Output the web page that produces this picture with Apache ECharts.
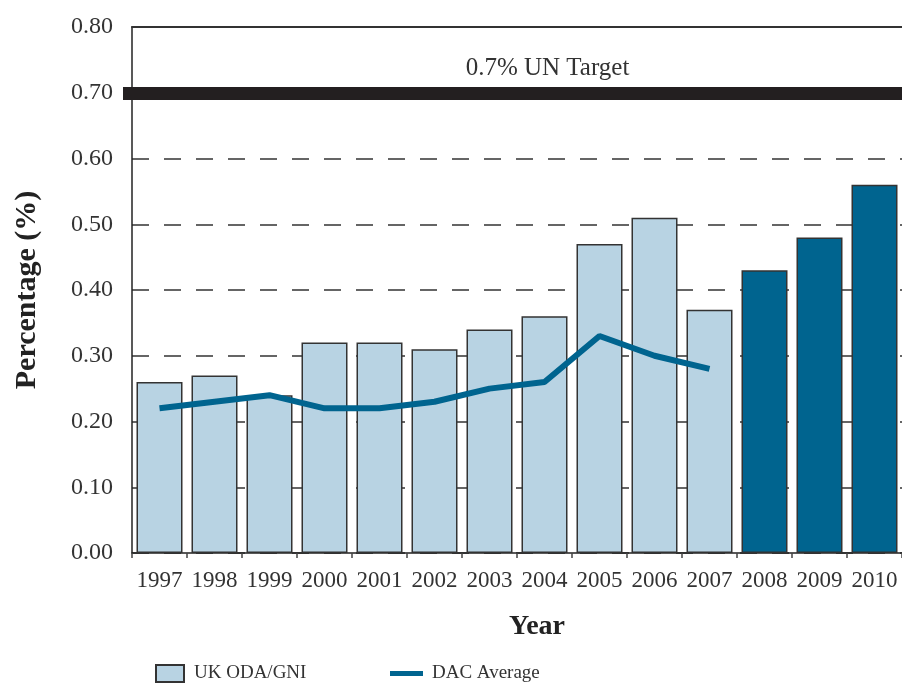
<!DOCTYPE html>
<html>
<head>
<meta charset="utf-8">
<script src="https://cdn.jsdelivr.net/npm/echarts@6/dist/echarts.min.js"></script>
<style>
  html, body { margin: 0; padding: 0; background: #fff; }
  #chart { width: 902px; height: 684px; }
</style>
</head>
<body>
<div id="chart"></div>
<script>
// Years on the horizontal axis
const years = ['1997', '1998', '1999', '2000', '2001', '2002', '2003', '2004',
               '2005', '2006', '2007', '2008', '2009', '2010'];
// UK ODA as a share of GNI (%)
const ukOdaGni = [0.26, 0.27, 0.24, 0.32, 0.32, 0.31, 0.34, 0.36,
                  0.47, 0.51, 0.37, 0.43, 0.48, 0.56];
// Years shown as planned spending (dark bars)
const plannedYears = ['2008', '2009', '2010'];
// DAC average ODA/GNI (%)
const dacAverage = [0.22, 0.23, 0.24, 0.22, 0.22, 0.23, 0.25, 0.26,
                    0.33, 0.30, 0.28];
// Y axis ticks
const yTicks = [0, 0.1, 0.2, 0.3, 0.4, 0.5, 0.6, 0.7, 0.8];
const unTarget = 0.7;

const FONT = '"Liberation Serif", "DejaVu Serif", serif';
const TEXT = '#333';
const LIGHT = '#b8d3e3';
const DARK = '#00648f';

const chart = echarts.init(document.getElementById('chart'), null, { renderer: 'canvas' });

const barData = years.map((y, i) => ({
  value: ukOdaGni[i],
  itemStyle: plannedYears.includes(y) ? { color: DARK } : undefined
}));

chart.setOption({
  animation: false,
  backgroundColor: '#fff',
  textStyle: { fontFamily: FONT, color: TEXT },
  grid: { left: 132, right: 0, top: 27, bottom: 131, containLabel: false },
  legend: [
    {
      data: [{ name: 'UK ODA/GNI', icon: 'rect' }],
      left: 155, top: 664, padding: 0,
      itemWidth: 28, itemHeight: 17,
      textStyle: { fontFamily: FONT, fontSize: 19, color: TEXT, padding: [0, 0, 0, 5] }
    },
    {
      data: [{ name: 'DAC Average', icon: 'rect', itemStyle: { color: DARK, borderWidth: 0 } }],
      left: 390, top: 664, padding: 0,
      itemWidth: 33, itemHeight: 5,
      itemStyle: { color: DARK, borderWidth: 0 },
      lineStyle: { width: 0 },
      textStyle: { fontFamily: FONT, fontSize: 19, color: TEXT, padding: [0, 0, 0, 4] }
    }
  ],
  xAxis: [
    {
      type: 'category',
      data: years,
      boundaryGap: true,
      name: 'Year',
      nameLocation: 'middle',
      nameGap: 60,
      nameTextStyle: { fontFamily: FONT, fontSize: 28, fontWeight: 'bold', color: '#222', padding: [0, 0, 0, 40] },
      axisLine: { lineStyle: { color: '#222', width: 1.5 } },
      axisTick: { show: true, length: 5, alignWithLabel: false, lineStyle: { color: '#444', width: 1.5 } },
      axisLabel: { fontFamily: FONT, fontSize: 23, color: TEXT, margin: 16, interval: 0 }
    },
    {
      type: 'category',
      data: years,
      position: 'top',
      axisLine: { show: true, lineStyle: { color: '#333', width: 2 } },
      axisTick: { show: false },
      axisLabel: { show: false }
    }
  ],
  yAxis: {
    type: 'value',
    min: yTicks[0],
    max: yTicks[yTicks.length - 1],
    interval: 0.1,
    name: 'Percentage (%)',
    nameLocation: 'middle',
    nameGap: 90,
    nameRotate: 90,
    nameTextStyle: { fontFamily: FONT, fontSize: 30, fontWeight: 'bold', color: '#222' },
    axisLine: { show: true, lineStyle: { color: '#222', width: 1.5 } },
    axisTick: { show: false },
    axisLabel: {
      fontFamily: FONT, fontSize: 24, color: TEXT, margin: 19,
      formatter: v => v.toFixed(2)
    },
    splitLine: { show: true, lineStyle: { color: '#333', width: 1.5, type: [17, 15] } }
  },
  series: [
    {
      name: 'UK ODA/GNI',
      type: 'bar',
      data: barData,
      barWidth: 46,
      itemStyle: { color: LIGHT, borderColor: '#333', borderWidth: 1.5 },
      z: 2,
      markLine: {
        silent: true,
        symbol: 'none',
        lineStyle: { color: '#231f20', width: 13, type: 'solid' },
        label: {
          show: true,
          position: 'insideMiddleTop',
          formatter: '0.7% UN Target',
          fontFamily: FONT, fontSize: 25, color: TEXT,
          distance: 12,
          padding: [0, 0, 0, 70]
        },
        data: [[{ x: 123, yAxis: unTarget }, { x: 902, yAxis: unTarget }]]
      }
    },
    {
      name: 'DAC Average',
      type: 'line',
      data: dacAverage,
      symbol: 'none',
      lineStyle: { color: DARK, width: 6 },
      itemStyle: { color: DARK },
      z: 5
    }
  ]
});
</script>
</body>
</html>
